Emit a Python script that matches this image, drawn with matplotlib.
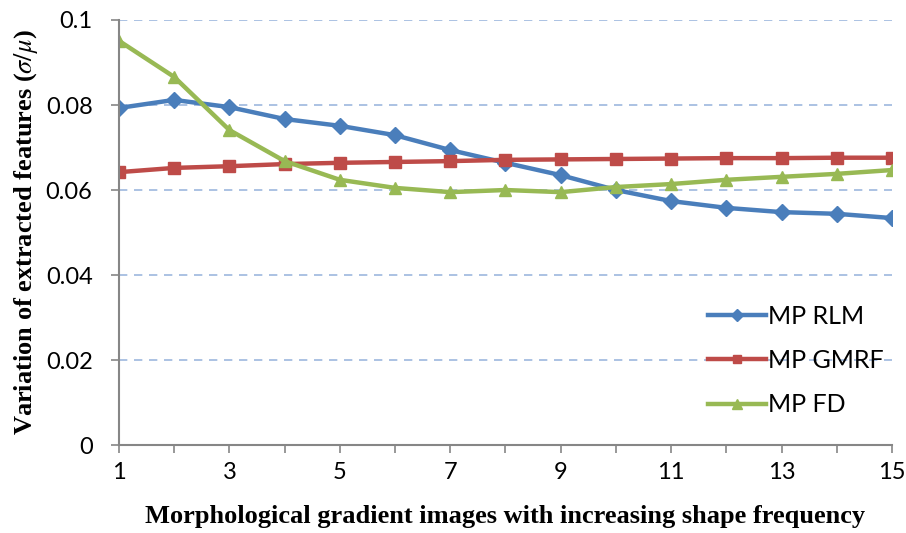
import matplotlib
matplotlib.use('Agg')
import matplotlib.pyplot as plt
from matplotlib.ticker import FixedLocator, FuncFormatter

# data
x = list(range(1, 16))
rlm = [0.0793, 0.0812, 0.0795, 0.0767, 0.0751, 0.0729, 0.0694, 0.0664,
       0.0635, 0.0600, 0.0574, 0.0558, 0.0548, 0.0544, 0.0534]
gmrf = [0.0642, 0.0652, 0.0656, 0.0661, 0.0664, 0.0666, 0.0668, 0.0671,
        0.0672, 0.0673, 0.0674, 0.0675, 0.0675, 0.0676, 0.0676]
fd = [0.0951, 0.0866, 0.0741, 0.0668, 0.0624, 0.0605, 0.0595, 0.0600,
      0.0595, 0.0607, 0.0614, 0.0624, 0.0631, 0.0638, 0.0647]
labels = ['MP RLM', 'MP GMRF', 'MP FD']
yticks = [0, 0.02, 0.04, 0.06, 0.08, 0.1]

plt.rcParams['mathtext.fontset'] = 'stix'

fig = plt.figure(figsize=(9.06, 5.33), dpi=100)
ax = fig.add_axes([0.1313, 0.165, 0.8532, 0.7975])

for y in yticks[1:]:
    ax.axhline(y, color='#9DB8DE', lw=1.2, ls=(0, (5, 4)), zorder=0)

ax.plot(x, rlm, color='#4A7EBB', lw=3.2, marker='D', ms=8, label=labels[0])
ax.plot(x, gmrf, color='#BE4B48', lw=3.2, marker='s', ms=8, label=labels[1])
ax.plot(x, fd, color='#98B954', lw=3.2, marker='^', ms=9, label=labels[2])

ax.set_xlim(1, 15)
ax.set_ylim(0, 0.1)
ax.xaxis.set_major_locator(FixedLocator(x))
ax.set_xticklabels([str(v) if v % 2 == 1 else '' for v in x])
ax.yaxis.set_major_locator(FixedLocator(yticks))
ax.yaxis.set_major_formatter(FuncFormatter(lambda v, p: '0' if v == 0 else ('%.2f' % v).rstrip('0')))

for s in ['top', 'right']:
    ax.spines[s].set_visible(False)
for s in ['left', 'bottom']:
    ax.spines[s].set_color('#868686')
    ax.spines[s].set_linewidth(1.5)
ax.tick_params(direction='out', length=6, width=1.2, color='#868686',
               labelsize=17, pad=13)
for t in ax.get_xticklabels() + ax.get_yticklabels():
    t.set_fontfamily('Lato')
ax.tick_params(axis='x', pad=6)

ax.set_xlabel('Morphological gradient images with increasing shape frequency',
              fontfamily='Liberation Serif', fontweight='bold', fontsize=19, labelpad=16)
ax.set_ylabel(r'Variation of extracted features ($\sigma/\mu$)',
              fontfamily='Liberation Serif', fontweight='bold', fontsize=19)
ax.yaxis.set_label_coords(-0.102, 0.5)

ax.legend(loc='upper left', bbox_to_anchor=(0.757, 0.47), bbox_transform=fig.transFigure,
          frameon=False, prop={'family': 'Lato', 'size': 18},
          labelspacing=0.85, handlelength=2.3, handletextpad=0.1, markerscale=0.75)

plt.savefig('out.png', dpi=100)
